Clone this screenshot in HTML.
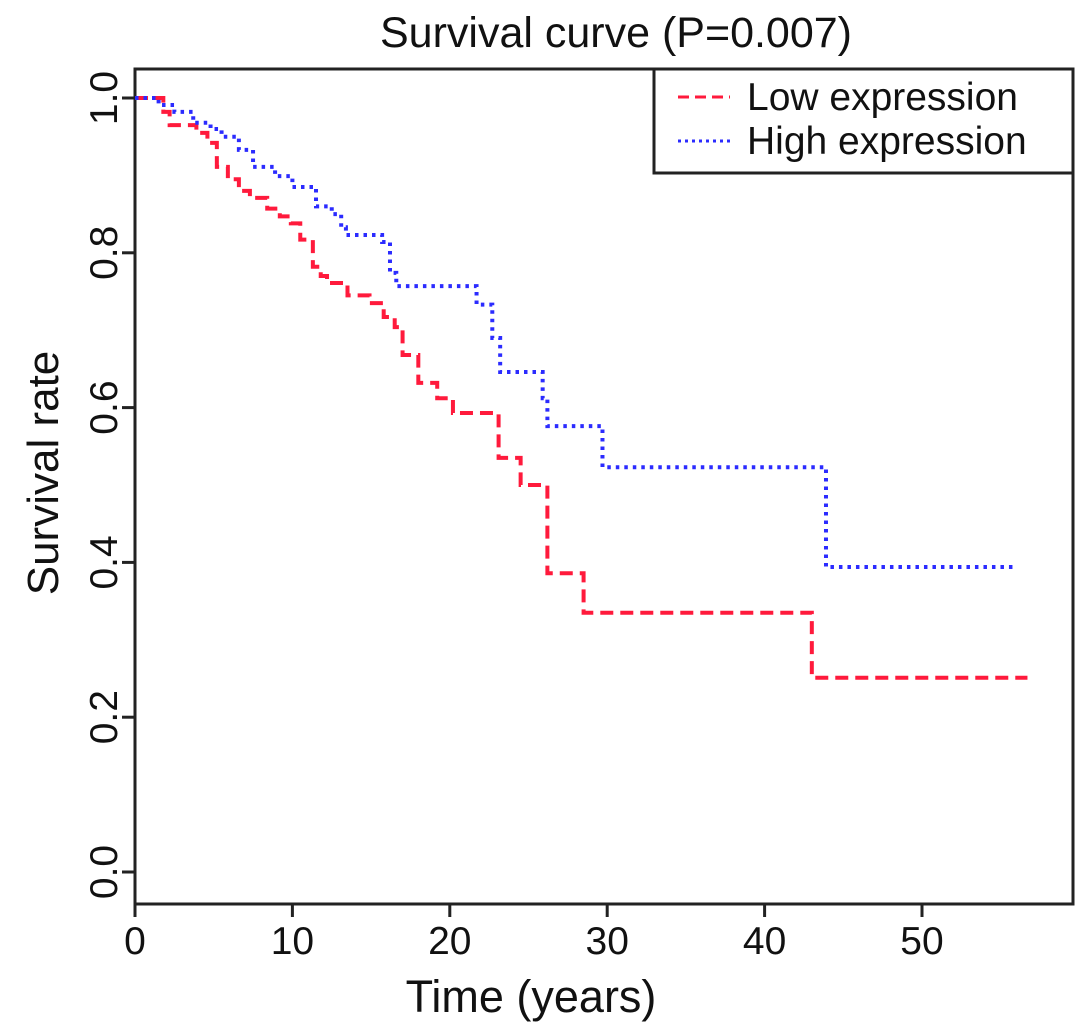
<!DOCTYPE html>
<html><head><meta charset="utf-8"><style>
body{margin:0;background:#fff;}
svg{display:block;font-family:"Liberation Sans",Arial,sans-serif;}
</style></head><body>
<svg id="chart" width="1087" height="1032" viewBox="0 0 1087 1032">
<text x="616" y="47" font-size="43" text-anchor="middle" fill="#111">Survival curve (P=0.007)</text>
<rect x="135" y="69" width="938" height="835" fill="none" stroke="#222" stroke-width="3"/>
<g id="xaxis"></g>
<g id="yaxis"></g>
<text x="531" y="1012" font-size="45" text-anchor="middle" fill="#111">Time (years)</text>
<text transform="translate(58,473) rotate(-90)" font-size="44" text-anchor="middle" fill="#111">Survival rate</text>
<g id="series"></g>
<g>
<rect x="654" y="69" width="419" height="104" fill="#fff" stroke="#222" stroke-width="3"/>
<line x1="678" y1="97" x2="730" y2="97" stroke="#ff1a3c" stroke-width="3" stroke-dasharray="11 6"/>
<text x="747" y="110" font-size="39" fill="#111">Low expression</text>
<line x1="678" y1="141" x2="730" y2="141" stroke="#2b2bff" stroke-width="3" stroke-dasharray="3 4"/>
<text x="747" y="154" font-size="39" fill="#111">High expression</text>
</g>
</svg>
<script>
const xTicks=[0,10,20,30,40,50];
const yTicks=[0.0,0.2,0.4,0.6,0.8,1.0];
const lowTimes=[0,1.8,2.2,3.9,4.6,5.2,5.9,6.6,7.3,8.4,9.2,9.9,10.5,11.3,11.8,12.2,13.5,14.9,15.8,16.5,17.0,18.0,19.2,20.2,23.1,24.5,26.2,28.5,43.0,56.7];
const lowValues=[1.0,0.982,0.965,0.955,0.942,0.911,0.895,0.88,0.871,0.857,0.847,0.838,0.817,0.782,0.77,0.761,0.745,0.735,0.717,0.704,0.668,0.632,0.612,0.593,0.535,0.5,0.386,0.335,0.251,0.251];
const highTimes=[0,1.5,2.5,3.7,4.8,5.5,6.6,7.5,8.9,10.0,11.5,12.5,13.1,13.4,15.7,16.2,16.6,21.7,22.7,23.2,25.9,26.2,29.7,43.9,55.9];
const highValues=[1.0,0.991,0.982,0.968,0.96,0.95,0.933,0.911,0.899,0.885,0.86,0.85,0.833,0.823,0.814,0.774,0.757,0.733,0.69,0.646,0.612,0.576,0.523,0.394,0.394];
const NS='http://www.w3.org/2000/svg';
const X=t=>135+t*15.74;
const Y=v=>872-v*774;
const xa=document.getElementById('xaxis'), ya=document.getElementById('yaxis'), sg=document.getElementById('series');
function mk(tag,attrs,parent){const e=document.createElementNS(NS,tag);for(const k in attrs)e.setAttribute(k,attrs[k]);parent.appendChild(e);return e;}
xTicks.forEach(t=>{
  const l=mk('line',{x1:X(t),x2:X(t),y1:904,y2:917,stroke:'#222','stroke-width':3},xa);
  
  
  const tx=mk('text',{x:X(t),y:954,'font-size':39,'text-anchor':'middle',fill:'#111'},xa);
  tx.textContent=String(t);
  
  
});
yTicks.forEach(v=>{
  const l=mk('line',{x1:122,x2:135,y1:Y(v),y2:Y(v),stroke:'#222','stroke-width':3},ya);
  
  
  const tx=mk('text',{transform:`translate(117,${Y(v)}) rotate(-90)`,'font-size':39,'text-anchor':'middle',fill:'#111'},ya);
  tx.textContent=v.toFixed(1);
  
  
});
function stepPath(ts,vs){let d=`M${X(ts[0])},${Y(vs[0])}`;for(let i=1;i<ts.length;i++){d+=` H${X(ts[i])} V${Y(vs[i])}`;}return d;}
const low=mk('path',{d:stepPath(lowTimes,lowValues),fill:'none',stroke:'#ff1a3c','stroke-width':4,'stroke-dasharray':'13 7'},sg);


const high=mk('path',{d:stepPath(highTimes,highValues),fill:'none',stroke:'#2b2bff','stroke-width':4,'stroke-dasharray':'3.5 5'},sg);


</script>
</body></html>
